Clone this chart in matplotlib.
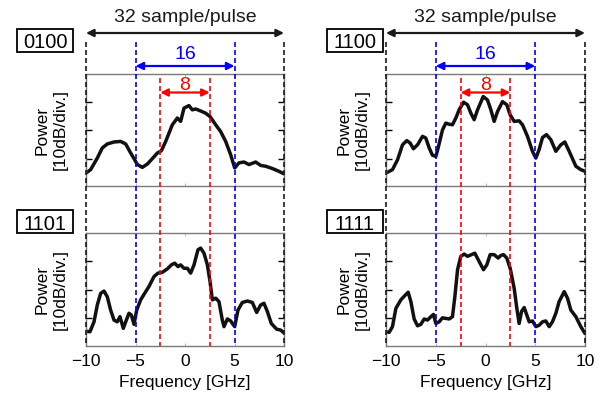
import matplotlib.pyplot as plt
from matplotlib.patches import Rectangle

plt.rcParams['font.family'] = ['Liberation Sans', 'DejaVu Sans']

# spectra, power in divisions (10 dB/div.)
freq0100 = [-10, -9.53, -8.86, -8.35, -7.85, -7.17, -6.5, -5.99, -5.49, -5.15, -4.81, -4.31, -3.8, -3.3,
            -2.79, -2.39, -1.95, -1.28, -0.77, -0.44, -0.1, 0.4, 0.74, 1.08, 1.58, 2.09, 2.53, 3.1, 3.6,
            4.11, 4.61, 5.02, 5.45, 5.96, 6.46, 7.14, 7.64, 8.15, 8.82, 9.49, 10]
power0100 = [0.49, 0.61, 1.02, 1.38, 1.52, 1.59, 1.61, 1.52, 1.2, 1.0, 0.79, 0.69, 0.81, 1.0,
             1.2, 1.28, 1.61, 2.2, 2.44, 2.32, 2.79, 2.88, 2.73, 2.76, 2.69, 2.61, 2.49, 2.2, 1.96,
             1.61, 1.14, 0.67, 0.85, 0.88, 0.79, 0.88, 0.76, 0.73, 0.65, 0.55, 0.46]

freq1100 = [-10, -9.35, -8.84, -8.34, -7.91, -7.57, -7.24, -6.83, -6.33, -6.0, -5.66, -5.33, -4.99, -4.76,
            -4.32, -3.99, -3.65, -3.32, -2.98, -2.65, -2.21, -1.81, -1.47, -1.14, -0.8, -0.23, 0.2, 0.54,
            0.87, 1.21, 1.71, 2.14, 2.48, 2.88, 3.38, 3.72, 4.22, 4.72, 5.06, 5.39, 5.73, 6.13, 6.57,
            7.07, 7.57, 7.97, 8.41, 8.74, 9.08, 9.58, 10]
power1100 = [0.49, 0.61, 0.96, 1.49, 1.64, 1.55, 1.35, 1.49, 1.79, 1.73, 1.38, 1.12, 1.08, 1.38,
             2.02, 2.26, 2.22, 2.2, 2.44, 2.73, 3.0, 2.91, 2.61, 2.38, 2.73, 3.2, 3.08, 2.73,
             2.32, 2.67, 3.02, 2.91, 2.55, 2.32, 2.34, 2.2, 1.79, 1.26, 1.02, 1.32, 1.75, 1.85, 1.67,
             1.26, 1.49, 1.59, 1.26, 1.0, 0.73, 0.61, 0.55]

freq1101 = [-10, -9.6, -9.19, -8.86, -8.52, -8.18, -7.85, -7.51, -7.17, -6.84, -6.57, -6.23, -5.99, -5.66,
            -5.42, -5.15, -4.88, -4.48, -3.97, -3.64, -3.13, -2.73, -2.29, -1.78, -1.38, -1.04, -0.71,
            -0.44, -0.1, 0.24, 0.57, 0.91, 1.31, 1.58, 1.92, 2.26, 2.53, 2.76, 3.1, 3.43, 3.77, 3.94,
            4.28, 4.61, 5.02, 5.35, 5.79, 6.3, 6.8, 7.24, 7.64, 7.98, 8.32, 8.72, 9.26, 9.66, 10]
power1101 = [0.55, 0.53, 0.88, 1.47, 1.88, 1.96, 1.76, 1.29, 0.94, 0.88, 1.06, 0.65, 0.88, 1.18,
             1.12, 0.79, 1.29, 1.65, 1.94, 2.12, 2.47, 2.59, 2.62, 2.74, 2.88, 2.94, 2.82,
             2.88, 2.76, 2.76, 2.59, 2.88, 3.41, 3.47, 3.29, 2.88, 2.29, 1.65, 1.71, 1.59, 0.94, 0.71,
             0.98, 0.91, 0.71, 1.29, 1.56, 1.61, 1.56, 1.21, 1.47, 1.53, 1.24, 0.82, 0.62, 0.59, 0.49]

freq1111 = [-10, -9.68, -9.35, -9.01, -8.51, -8.11, -7.77, -7.5, -7.17, -6.83, -6.5, -6.16, -5.83, -5.49,
            -5.23, -4.99, -4.66, -4.32, -3.99, -3.65, -3.32, -3.08, -2.81, -2.48, -2.14, -1.81, -1.41,
            -1.07, -0.64, -0.2, 0.13, 0.47, 0.87, 1.27, 1.54, 1.81, 2.14, 2.48, 2.88, 3.15, 3.38, 3.62,
            3.89, 4.15, 4.39, 4.72, 5.06, 5.39, 5.73, 6.06, 6.4, 6.73, 7.07, 7.4, 7.91, 8.24, 8.58,
            9.08, 9.58, 10]
power1111 = [0.53, 0.51, 0.71, 1.35, 1.65, 1.8, 1.92, 1.59, 0.98, 0.74, 0.79, 0.98, 0.94, 1.06,
             1.14, 0.82, 0.88, 1.02, 1.0, 0.98, 1.06, 1.76, 2.71, 3.18, 3.26, 3.18, 3.24,
             3.29, 3.0, 2.71, 2.88, 3.24, 3.24, 3.12, 3.21, 3.24, 3.12, 2.76, 2.06, 1.35, 0.82, 1.24,
             1.38, 1.12, 0.88, 0.91, 0.71, 0.76, 0.88, 0.91, 0.71, 0.88, 1.18, 1.59, 1.94, 1.71, 1.29,
             1.06, 0.71, 0.47]

panelCodes = ['0100', '1100', '1101', '1111']
panelFreqs = [freq0100, freq1100, freq1101, freq1111]
panelPowers = [power0100, power1100, power1101, power1111]

spanLabels = ['32 sample/pulse', '16', '8']
spanEdges = [10, 5, 2.5]
spanColors = ['#1a1a1a', '#0000ff', '#ff0000']

W, H = 615, 401
fig = plt.figure(figsize=(W / 100, H / 100), dpi=100)

# pixel canvas for the code boxes and y labels
canvas = fig.add_axes([0, 0, 1, 1])
canvas.set_xlim(0, W)
canvas.set_ylim(H, 0)
canvas.axis('off')

colLeft = [86, 386]
colRight = [284, 585]
rowTop = [74, 233]
rowBottom = [186, 346]
boxLeft = [17, 327]
boxTop = [29, 210]
boxBase = [48, 229.5]
labelX = [51, 353]

for k in range(4):
    r, c = k // 2, k % 2
    ax = fig.add_axes([colLeft[c] / W, 1 - rowBottom[r] / H,
                       (colRight[c] - colLeft[c]) / W, (rowBottom[r] - rowTop[r]) / H])
    ax.plot(panelFreqs[k], panelPowers[k], color='#111111', lw=2.5, solid_joinstyle='round',
            solid_capstyle='round')
    ax.set_xlim(-10, 10)
    ax.set_ylim(0.03, 4.0)
    ax.set_yticks([1, 2, 3])
    ax.set_yticklabels([])
    ax.set_xticks([-10, -5, 0, 5, 10])
    ax.tick_params(axis='y', direction='in', left=True, right=True, length=4, width=1, color='black')
    ax.tick_params(axis='x', direction='in', top=True, bottom=True, length=2, width=0.8,
                   color='#c0c0c0', labelsize=12.5, pad=6)
    for s in ax.spines.values():
        s.set_color('#7a7a7a')
        s.set_linewidth(1.0)
    if r == 0:
        ax.set_xticklabels([])
    else:
        ax.set_xlabel('Frequency [GHz]', fontsize=12.5, labelpad=4)

    canvas.add_patch(Rectangle((boxLeft[c], boxTop[r]), 56, 23, fill=False, ec='black', lw=1.3))
    canvas.text(boxLeft[c] + 28, boxBase[r], panelCodes[k], ha='center', va='baseline', fontsize=14.5)
    canvas.text(labelX[c], (rowTop[r] + rowBottom[r]) / 2, 'Power\n[10dB/div.]', rotation=90,
                ha='center', va='center', multialignment='center', fontsize=12.5, linespacing=1.25)

# span markers over each column, y in pixel rows
lineStart = [42, 42, 78]
arrowRow = [33, 66, 92.5]
textBase = [21.5, 59, 90]
for c in range(2):
    over = fig.add_axes([colLeft[c] / W, 1 - 346 / H, (colRight[c] - colLeft[c]) / W, 346 / H])
    over.set_xlim(-10, 10)
    over.set_ylim(346, 0)
    over.axis('off')
    for i in range(3):
        e = spanEdges[i]
        for xv in (-e, e):
            over.plot([xv, xv], [lineStart[i], 346], color=spanColors[i], lw=1.2,
                      linestyle=(0, (3, 1.8)), clip_on=False)
        over.annotate('', xy=(e, arrowRow[i]), xytext=(-e, arrowRow[i]),
                      arrowprops=dict(arrowstyle='<|-|>', color=spanColors[i], lw=1.6,
                                      mutation_scale=11, shrinkA=0, shrinkB=0))
        over.text(0, textBase[i], spanLabels[i], color=spanColors[i], ha='center', va='baseline',
                  fontsize=14)

plt.savefig('out.png', dpi=100)
